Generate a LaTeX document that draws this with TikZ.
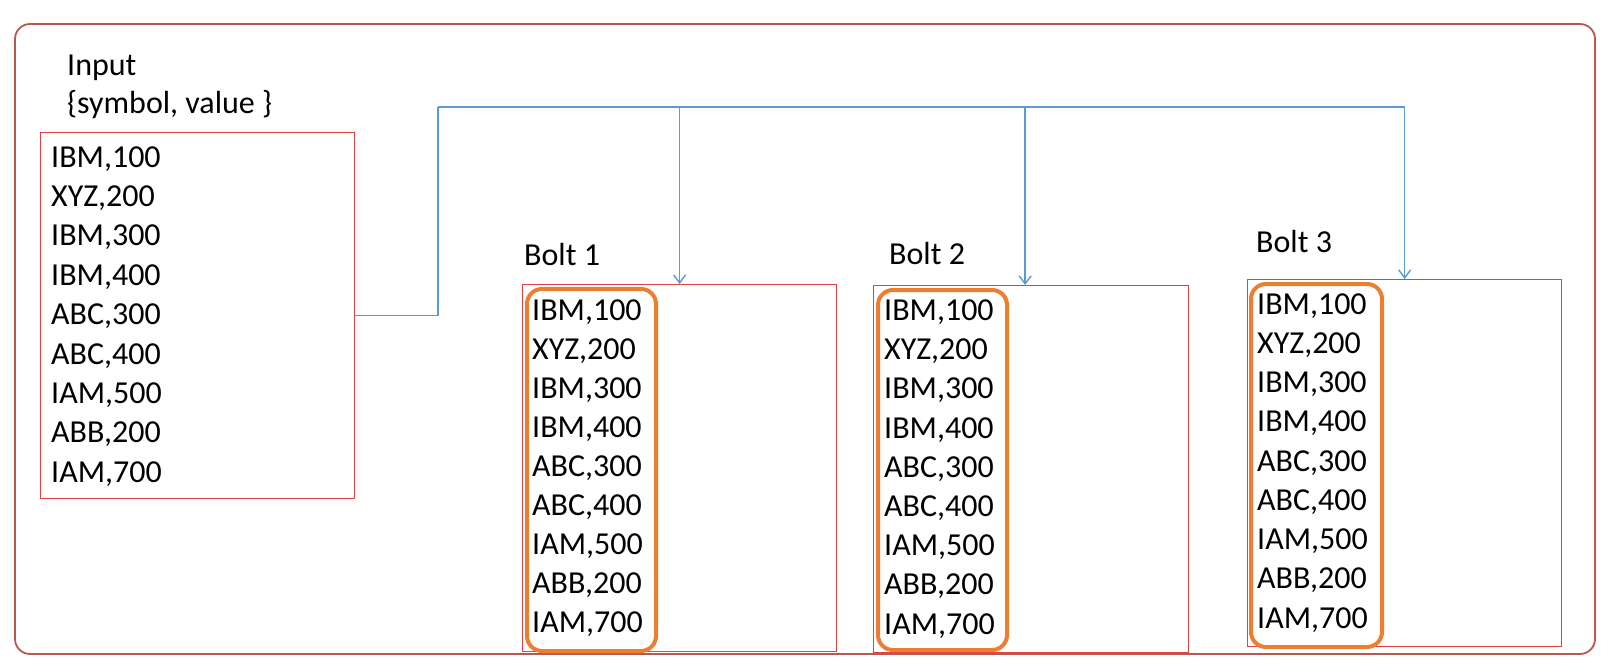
\documentclass[tikz,border=0pt]{standalone}
\usepackage{fontspec}
\setmainfont{Carlito}
\usetikzlibrary{arrows.meta}
\definecolor{framec}{RGB}{184,88,78}
\definecolor{boxc}{RGB}{228,64,64}
\definecolor{linkc}{RGB}{91,155,213}
\definecolor{groupc}{RGB}{237,125,49}
\tikzset{
  frame/.style={draw=framec, line width=1.8pt, rounded corners=15pt},
  databox/.style={draw=boxc, line width=1.3pt, rectangle, inner sep=0pt, anchor=north west},
  groupbox/.style={draw=groupc, line width=4pt, rounded corners=15pt, rectangle, inner sep=0pt, anchor=north west},
  row/.style={anchor=base west, inner sep=0pt, font=\fontsize{32}{38}\selectfont},
  title/.style={anchor=base west, inner sep=0pt, font=\fontsize{32}{38}\selectfont},
  link/.style={draw=linkc, line width=1.4pt},
  linkarrow/.style={link, -{Straight Barb[length=8pt,width=12pt,line width=1.4pt]}}
}
\begin{document}
\begin{tikzpicture}[x=1pt,y=-1pt]
  \useasboundingbox (0,0) rectangle (1618,665);
  % outer frame
  \draw[frame] (15,24) rectangle (1595,654);

  % input stream
  \node[title] (inlabel) at (67,75) {Input};
  \node[title] (inschema) at (67,113) {\{symbol, value \}};
  \node[databox, minimum width=314pt, minimum height=366pt] (in) at (40,132) {};

  % bolts
  \node[title] (b1label) at (524,265) {Bolt 1};
  \node[title] (b2label) at (889,264) {Bolt 2};
  \node[title] (b3label) at (1256,252) {Bolt 3};
  \node[databox, minimum width=314pt, minimum height=367pt] (b1) at (522,284) {};
  \node[databox, minimum width=315pt, minimum height=367pt] (b2) at (873,285) {};
  \node[databox, minimum width=314pt, minimum height=367pt] (b3) at (1247,279) {};
  \node[groupbox, minimum width=129pt, minimum height=362pt] (g1) at (525,287) {};
  \node[groupbox, minimum width=129pt, minimum height=360pt] (g2) at (876,288) {};
  \node[groupbox, minimum width=131pt, minimum height=363pt] (g3) at (1249,282) {};

  % tuple rows
  \foreach \s/\v [count=\i from 0] in {IBM/100,XYZ/200,IBM/300,IBM/400,ABC/300,ABC/400,IAM/500,ABB/200,IAM/700}{
    \node[row] (inr\i) at (51,167+39.4*\i) {\s,\v};
    \node[row] (b1r\i) at (532,320+39*\i) {\s,\v};
    \node[row] (b2r\i) at (884,320.5+39.2*\i) {\s,\v};
    \node[row] (b3r\i) at (1257,314+39.25*\i) {\s,\v};
  }

  % broadcast connectors
  \coordinate (hub) at (438,107);
  \coordinate (b2in) at ([xshift=-6pt]b2.north);
  \draw[link] (in.east) -| (hub);
  \draw[linkarrow] (hub) -| (b3.north);
  \draw[linkarrow] (hub -| b1.north) -- (b1.north);
  \draw[linkarrow] (hub -| b2in) -- (b2in);
\end{tikzpicture}
\end{document}
